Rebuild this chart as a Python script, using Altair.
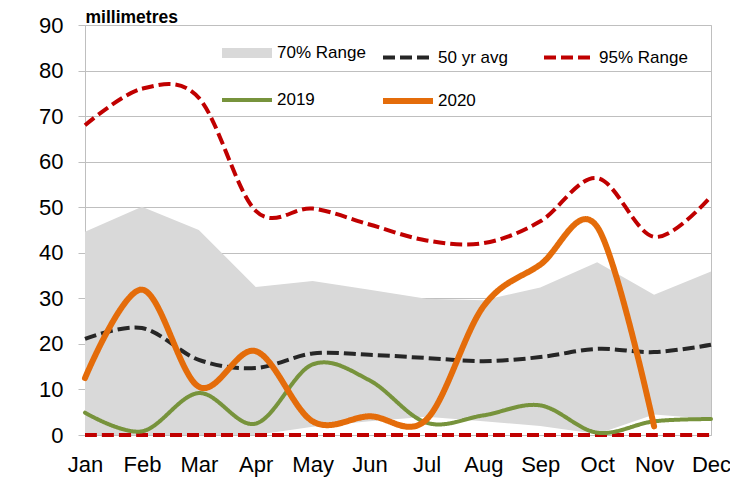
import altair as alt
import pandas as pd

months = ["Jan", "Feb", "Mar", "Apr", "May", "Jun", "Jul", "Aug", "Sep", "Oct", "Nov", "Dec"]
range70_low = [0, 0, 0, 0, 1.8, 3.0, 4.0, 3.0, 2.0, 0.2, 4.5, 3.5]
range70_high = [44.6, 50.1, 45.0, 32.5, 33.8, 31.9, 29.9, 29.6, 32.4, 37.9, 30.8, 35.9]
avg_50yr = [21.1, 23.5, 16.5, 14.7, 17.9, 17.6, 16.9, 16.2, 17.1, 18.9, 18.2, 19.8]
range95_high = [68.0, 76.0, 74.0, 49.2, 49.7, 46.2, 42.7, 42.1, 46.9, 56.4, 43.5, 52.4]
range95_low = [0, 0, 0, 0, 0, 0, 0, 0, 0, 0, 0, 0]
rain_2019 = [4.9, 0.8, 9.2, 2.5, 15.5, 12.0, 2.7, 4.3, 6.5, 0.5, 3.0, 3.5]
rain_2020 = [12.5, 31.9, 10.6, 18.4, 3.0, 4.1, 3.4, 28.2, 37.4, 45.7, 1.9]
y_ticks = [0, 10, 20, 30, 40, 50, 60, 70, 80, 90]

series_names = ["70% Range", "50 yr avg", "95% Range", "2019", "2020"]
series_colors = ["#d9d9d9", "#262626", "#c00000", "#77933c", "#e46c0a"]
series_widths = [10, 4, 4, 4, 6]
series_dashes = [[1, 0], [12, 5], [12, 5], [1, 0], [1, 0]]

FONT = "Liberation Sans"


def line_df(values, name, part):
    return pd.DataFrame({
        "month": months[:len(values)],
        "value": values,
        "series": name,
        "part": part,
    })


area_df = pd.DataFrame({"month": months, "low": range70_low, "high": range70_high})
r95_df = pd.concat([line_df(range95_high, "95% Range", "hi"), line_df(range95_low, "95% Range", "lo")])
avg_df = line_df(avg_50yr, "50 yr avg", "avg")
y19_df = line_df(rain_2019, "2019", "y19")
y20_df = line_df(rain_2020, "2020", "y20")

x_enc = alt.X(
    "month:N",
    sort=months,
    scale=alt.Scale(type="point", padding=0, domain=months),
    axis=alt.Axis(
        title=None, labelAngle=0, ticks=False, tickSize=0, domain=False, grid=False,
        labelFontSize=22, labelFont=FONT, labelColor="black", labelPadding=36,
        labelBaseline="alphabetic", labelFlush=False, labelOverlap=False,
    ),
)

y_axis = alt.Axis(
    values=y_ticks, grid=True, gridColor="#bfbfbf", gridWidth=1, domain=False,
    ticks=True, tickSize=7, tickColor="#bfbfbf", labelFontSize=22, labelFont=FONT,
    labelColor="black", labelPadding=15,
    title="millimetres", titleAngle=0, titleX=0, titleY=-3, titleAlign="left",
    titleBaseline="alphabetic", titleFontSize=17.5, titleFontWeight="bold",
    titleFont=FONT, titleColor="black",
)
y_scale = alt.Scale(domain=[0, 90], nice=False, zero=True)

legend = alt.Legend(
    orient="none", legendX=132, legendY=-2, direction="horizontal", columns=3,
    gridAlign="all", columnPadding=5, rowPadding=-7, symbolType="stroke",
    symbolSize=2500, labelFontSize=17, labelFont=FONT, labelColor="black",
    labelOffset=0, title=None, padding=0,
)

color_enc = alt.Color("series:N", scale=alt.Scale(type="ordinal", domain=series_names, range=series_colors), legend=legend)
dash_enc = alt.StrokeDash("series:N", scale=alt.Scale(type="ordinal", domain=series_names, range=series_dashes), legend=legend)
width_enc = alt.StrokeWidth("series:N", scale=alt.Scale(type="ordinal", domain=series_names, range=series_widths), legend=legend)

area = alt.Chart(area_df).mark_area(color="#d9d9d9", opacity=1, interpolate="linear").encode(
    x=x_enc,
    y=alt.Y("high:Q", scale=y_scale, axis=y_axis),
    y2="low:Q",
)


def line_layer(df, cap):
    return alt.Chart(df).mark_line(interpolate="cardinal", strokeCap=cap, strokeJoin="round").encode(
        x=x_enc,
        y=alt.Y("value:Q", scale=y_scale, axis=y_axis),
        color=color_enc,
        strokeDash=dash_enc,
        strokeWidth=width_enc,
        detail="part:N",
    )


chart = alt.layer(
    area,
    line_layer(r95_df, "butt"),
    line_layer(avg_df, "butt"),
    line_layer(y19_df, "round"),
    line_layer(y20_df, "round"),
).properties(
    width=626,
    height=410,
    autosize=alt.AutoSizeParams(type="none"),
    padding={"left": 77, "top": 17, "right": 19, "bottom": 42},
).configure_view(
    stroke="#bfbfbf", strokeWidth=1
)

chart.save("out.html", embed_options={"renderer": "svg", "actions": False})
